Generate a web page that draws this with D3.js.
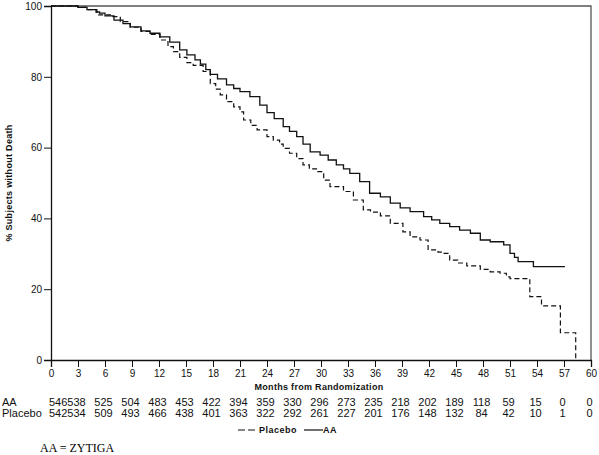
<!DOCTYPE html>
<html>
<head>
<meta charset="utf-8">
<script src="https://cdn.jsdelivr.net/npm/d3@7"></script>
<style>
  body { margin: 0; background: #fff; }
  svg { display: block; font-family: Arial, "Liberation Sans", sans-serif; }
</style>
</head>
<body>
<svg id="chart" width="599" height="455"></svg>
<script>
// Kaplan-Meier curves (months, % without death)
const aaMonths = [0, 2.5, 3, 4, 5, 5.4, 6, 7, 8, 8.8, 10, 11, 12.1, 13.2, 14.3, 15.1, 16, 16.6, 17.2, 17.7,
  18.5, 19.5, 20.3, 21, 22.1, 23.2, 24, 24.8, 25.8, 26.5, 27.3, 28, 28.8, 29.9, 30.8, 31.7, 32.5, 33.2,
  34.3, 35.4, 36.6, 37.7, 38.8, 39.9, 41.4, 42.3, 43.2, 44.3, 45.4, 46.6, 47.7, 48.8, 50.3, 51, 51.5,
  51.9, 53.6, 57.1];
const aaValues = [100, 100, 99.6, 99, 98.3, 98, 97.2, 96, 95, 94.1, 93, 92.3, 91.3, 89.8, 87.6, 86.2, 84.8,
  83.6, 82, 80.7, 79.4, 77.7, 76.7, 75.8, 74.4, 72, 69.9, 68.2, 65.9, 64.6, 63.1, 61, 58.8, 57.9, 56.5,
  55.1, 54, 52.7, 50.4, 47.1, 46.1, 44.3, 43, 41.9, 40.5, 39.6, 38.6, 37.7, 36.7, 35.8, 33.9, 33.4, 32.5,
  30.1, 29, 27.8, 26.4, 26.4];

const placeboMonths = [0, 3, 4, 5.1, 6.6, 7.7, 8.8, 10, 11, 12.1, 13, 13.6, 14.3, 15.1, 15.8, 16.9, 17.7,
  18.3, 18.8, 19.5, 20.3, 21, 21.4, 22.2, 22.9, 24, 24.7, 25.4, 25.8, 26.5, 27.3, 28, 28.7, 29.5, 30.3,
  31, 32.5, 33.6, 34.7, 35.5, 36.6, 37.7, 39.1, 39.9, 41, 41.9, 43, 43.6, 44.3, 45.2, 46.2, 47.7, 48.8,
  49.9, 50.6, 51, 53.2, 54.5, 56.6, 58.3];
const placeboValues = [100, 99.6, 99, 97.5, 97, 95.6, 94, 92.8, 92, 90.4, 88.5, 87.1, 85.5, 84, 83.2,
  81.5, 78.1, 76.5, 74.9, 73, 71.5, 70.1, 67.8, 66.3, 65, 63.1, 62.1, 61, 59.8, 58.4, 56.9, 55.1, 54,
  53.2, 50.8, 49, 47.6, 45.2, 42.4, 41.8, 40.7, 38.6, 36.2, 34.8, 33.9, 31.1, 30.5, 30.1, 28.2, 27.4,
  26.6, 25.6, 24.9, 24.5, 23.5, 23, 17.9, 15.3, 7.7, 0];

// number at risk table
const riskMonths = [0, 3, 6, 9, 12, 15, 18, 21, 24, 27, 30, 33, 36, 39, 42, 45, 48, 51, 54, 57, 60];
const aaAtRisk = [546, 538, 525, 504, 483, 453, 422, 394, 359, 330, 296, 273, 235, 218, 202, 189, 118, 59, 15, 0, 0];
const placeboAtRisk = [542, 534, 509, 493, 466, 438, 401, 363, 322, 292, 261, 227, 201, 176, 148, 132, 84, 42, 10, 1, 0];

const yTicks = [0, 20, 40, 60, 80, 100];

const margin = { top: 6, left: 51 };
const width = 540;
const height = 354;

const svg = d3.select('#chart');
const g = svg.append('g').attr('transform', `translate(${margin.left},${margin.top})`);

const x = d3.scaleLinear().domain([0, 60]).range([0, width]);
const y = d3.scaleLinear().domain([0, 100]).range([height, 0]);

// frame (top + right)
g.append('path')
  .attr('d', `M0,0H${width}V${height}`)
  .attr('fill', 'none')
  .attr('stroke', '#555')
  .attr('stroke-width', 1.3);

// axes
const xAxis = g.append('g')
  .attr('transform', `translate(0,${height})`)
  .call(d3.axisBottom(x).tickValues(riskMonths).tickSize(7).tickPadding(3));
const yAxis = g.append('g')
  .call(d3.axisLeft(y).tickValues(yTicks).tickSize(7).tickPadding(2));

[xAxis, yAxis].forEach(a => {
  a.select('.domain').attr('stroke', '#111').attr('stroke-width', 1.3);
  a.selectAll('.tick line').attr('stroke', '#111');
  a.selectAll('.tick text')
    .attr('fill', '#111')
    .style('font-size', '10px')
    .style('font-family', 'Arial, "Liberation Sans", sans-serif');
});

// survival curves
const line = d3.line()
  .x(d => x(d[0]))
  .y(d => y(d[1]))
  .curve(d3.curveStepAfter);

g.append('path')
  .datum(d3.zip(placeboMonths, placeboValues))
  .attr('d', line)
  .attr('fill', 'none')
  .attr('stroke', '#111')
  .attr('stroke-width', 1.2)
  .attr('stroke-dasharray', '5,3');

g.append('path')
  .datum(d3.zip(aaMonths, aaValues))
  .attr('d', line)
  .attr('fill', 'none')
  .attr('stroke', '#111')
  .attr('stroke-width', 1.3);

// axis titles
svg.append('text')
  .attr('transform', `translate(12,${margin.top + height / 2}) rotate(-90)`)
  .attr('text-anchor', 'middle')
  .style('font-size', '9px')
  .style('font-weight', 'bold')
  .style('letter-spacing', '0.3px')
  .attr('fill', '#111')
  .text('% Subjects without Death');

svg.append('text')
  .attr('x', margin.left + width / 2 - 2)
  .attr('y', 390)
  .attr('text-anchor', 'middle')
  .style('font-size', '9px')
  .style('font-weight', 'bold')
  .style('letter-spacing', '0.3px')
  .attr('fill', '#111')
  .text('Months from Randomization');

// number at risk rows
const rows = [
  { label: 'AA', values: aaAtRisk, y: 406 },
  { label: 'Placebo', values: placeboAtRisk, y: 417 }
];
rows.forEach(r => {
  svg.append('text')
    .attr('x', 2)
    .attr('y', r.y)
    .style('font-size', '11px')
    .attr('fill', '#111')
    .text(r.label);
  svg.append('g').selectAll('text')
    .data(r.values)
    .enter()
    .append('text')
    .attr('x', (d, i) => i === 0 ? margin.left + x(riskMonths[i]) - 2 : margin.left + x(riskMonths[i]) - 1.5)
    .attr('y', r.y)
    .attr('text-anchor', (d, i) => i === 0 ? 'start' : 'middle')
    .style('font-size', '11px')
    .attr('fill', '#111')
    .text(d => d);
});

// legend
const legend = svg.append('g').attr('transform', 'translate(238,433)');
legend.append('line')
  .attr('x1', 0).attr('x2', 20).attr('y1', -3).attr('y2', -3)
  .attr('stroke', '#111').attr('stroke-width', 1.2).attr('stroke-dasharray', '7,3');
legend.append('text')
  .attr('x', 21).attr('y', 0)
  .style('font-size', '9px').style('font-weight', 'bold').style('letter-spacing', '0.5px')
  .attr('fill', '#111')
  .text('Placebo');
legend.append('line')
  .attr('x1', 66).attr('x2', 85).attr('y1', -3).attr('y2', -3)
  .attr('stroke', '#111').attr('stroke-width', 1.2);
legend.append('text')
  .attr('x', 85).attr('y', 0)
  .style('font-size', '9px').style('font-weight', 'bold').style('letter-spacing', '0.5px')
  .attr('fill', '#111')
  .text('AA');

// footnote
svg.append('text')
  .attr('x', 40)
  .attr('y', 452)
  .style('font-family', '"Liberation Serif", "Times New Roman", serif')
  .style('font-size', '12px')
  .attr('fill', '#000')
  .text('AA = ZYTIGA');
</script>
</body>
</html>
